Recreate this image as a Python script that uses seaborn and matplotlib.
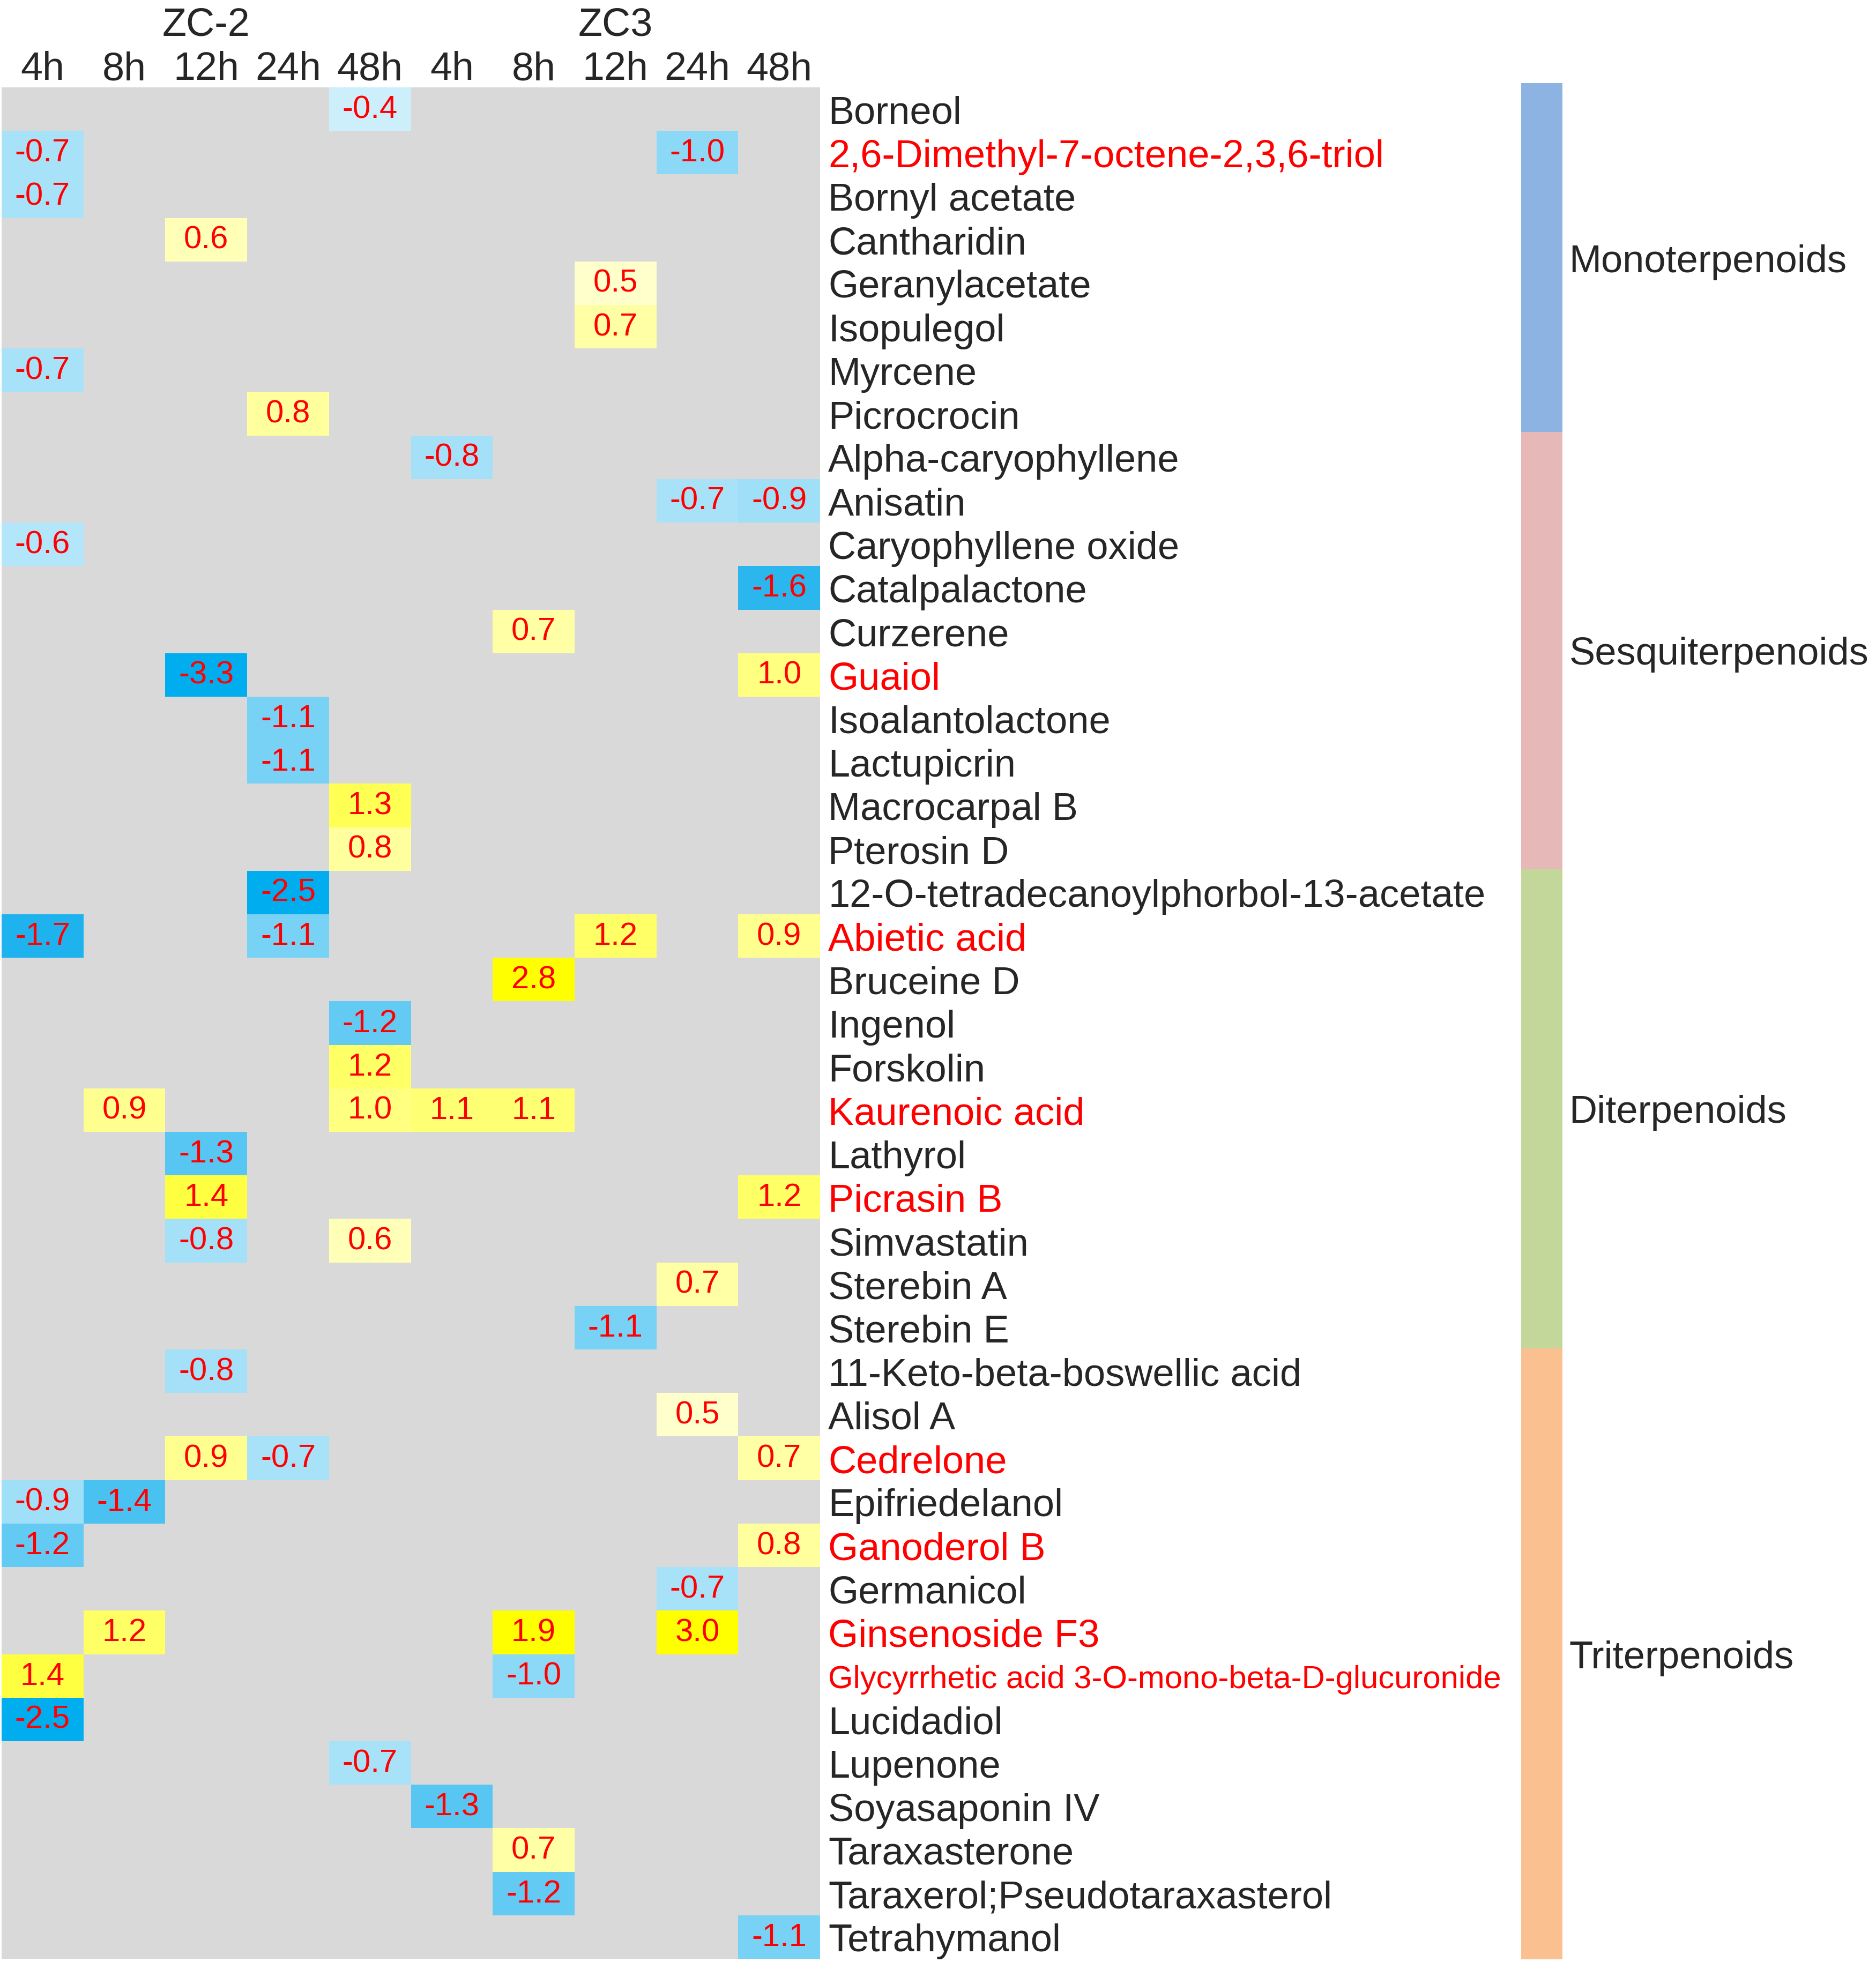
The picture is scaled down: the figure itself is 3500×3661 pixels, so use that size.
import numpy as np
import pandas as pd
import matplotlib
matplotlib.use("Agg")
import matplotlib.pyplot as plt
from matplotlib.colors import LinearSegmentedColormap, ListedColormap
import seaborn as sns

# ---------------- data ----------------
time_labels = ["4h", "8h", "12h", "24h", "48h", "4h", "8h", "12h", "24h", "48h"]
col_ids = ["ZC-2 4h", "ZC-2 8h", "ZC-2 12h", "ZC-2 24h", "ZC-2 48h",
           "ZC3 4h", "ZC3 8h", "ZC3 12h", "ZC3 24h", "ZC3 48h"]
strains = ["ZC-2", "ZC3"]

compounds = [
    "Borneol", "2,6-Dimethyl-7-octene-2,3,6-triol", "Bornyl acetate", "Cantharidin",
    "Geranylacetate", "Isopulegol", "Myrcene", "Picrocrocin",
    "Alpha-caryophyllene", "Anisatin", "Caryophyllene oxide", "Catalpalactone",
    "Curzerene", "Guaiol", "Isoalantolactone", "Lactupicrin", "Macrocarpal B", "Pterosin D",
    "12-O-tetradecanoylphorbol-13-acetate", "Abietic acid", "Bruceine D", "Ingenol",
    "Forskolin", "Kaurenoic acid", "Lathyrol", "Picrasin B", "Simvastatin",
    "Sterebin A", "Sterebin E",
    "11-Keto-beta-boswellic acid", "Alisol A", "Cedrelone", "Epifriedelanol",
    "Ganoderol B", "Germanicol", "Ginsenoside F3",
    "Glycyrrhetic acid 3-O-mono-beta-D-glucuronide", "Lucidadiol", "Lupenone",
    "Soyasaponin IV", "Taraxasterone", "Taraxerol;Pseudotaraxasterol", "Tetrahymanol",
]

red_labels = ["2,6-Dimethyl-7-octene-2,3,6-triol", "Guaiol", "Abietic acid",
              "Kaurenoic acid", "Picrasin B", "Cedrelone", "Ganoderol B",
              "Ginsenoside F3", "Glycyrrhetic acid 3-O-mono-beta-D-glucuronide"]

groups = ["Monoterpenoids", "Sesquiterpenoids", "Diterpenoids", "Triterpenoids"]
group_sizes = [8, 10, 11, 14]
group_colors = ["#8DB3E2", "#E6B8B7", "#C4D79B", "#FAC090"]

n = np.nan
values = [
    [n, n, n, n, -0.4, n, n, n, n, n],      # Borneol
    [-0.7, n, n, n, n, n, n, n, -1.0, n],   # 2,6-Dimethyl
    [-0.7, n, n, n, n, n, n, n, n, n],      # Bornyl acetate
    [n, n, 0.6, n, n, n, n, n, n, n],       # Cantharidin
    [n, n, n, n, n, n, n, 0.5, n, n],       # Geranylacetate
    [n, n, n, n, n, n, n, 0.7, n, n],       # Isopulegol
    [-0.7, n, n, n, n, n, n, n, n, n],      # Myrcene
    [n, n, n, 0.8, n, n, n, n, n, n],       # Picrocrocin
    [n, n, n, n, n, -0.8, n, n, n, n],      # Alpha-caryophyllene
    [n, n, n, n, n, n, n, n, -0.7, -0.9],   # Anisatin
    [-0.6, n, n, n, n, n, n, n, n, n],      # Caryophyllene oxide
    [n, n, n, n, n, n, n, n, n, -1.6],      # Catalpalactone
    [n, n, n, n, n, n, 0.7, n, n, n],       # Curzerene
    [n, n, -3.3, n, n, n, n, n, n, 1.0],    # Guaiol
    [n, n, n, -1.1, n, n, n, n, n, n],      # Isoalantolactone
    [n, n, n, -1.1, n, n, n, n, n, n],      # Lactupicrin
    [n, n, n, n, 1.3, n, n, n, n, n],       # Macrocarpal B
    [n, n, n, n, 0.8, n, n, n, n, n],       # Pterosin D
    [n, n, n, -2.5, n, n, n, n, n, n],      # 12-O-...
    [-1.7, n, n, -1.1, n, n, n, 1.2, n, 0.9],  # Abietic acid
    [n, n, n, n, n, n, 2.8, n, n, n],       # Bruceine D
    [n, n, n, n, -1.2, n, n, n, n, n],      # Ingenol
    [n, n, n, n, 1.2, n, n, n, n, n],       # Forskolin
    [n, 0.9, n, n, 1.0, 1.1, 1.1, n, n, n], # Kaurenoic acid
    [n, n, -1.3, n, n, n, n, n, n, n],      # Lathyrol
    [n, n, 1.4, n, n, n, n, n, n, 1.2],     # Picrasin B
    [n, n, -0.8, n, 0.6, n, n, n, n, n],    # Simvastatin
    [n, n, n, n, n, n, n, n, 0.7, n],       # Sterebin A
    [n, n, n, n, n, n, n, -1.1, n, n],      # Sterebin E
    [n, n, -0.8, n, n, n, n, n, n, n],      # 11-Keto
    [n, n, n, n, n, n, n, n, 0.5, n],       # Alisol A
    [n, n, 0.9, -0.7, n, n, n, n, n, 0.7],  # Cedrelone
    [-0.9, -1.4, n, n, n, n, n, n, n, n],   # Epifriedelanol
    [-1.2, n, n, n, n, n, n, n, n, 0.8],    # Ganoderol B
    [n, n, n, n, n, n, n, n, -0.7, n],      # Germanicol
    [n, 1.2, n, n, n, n, 1.9, n, 3.0, n],   # Ginsenoside F3
    [1.4, n, n, n, n, n, -1.0, n, n, n],    # Glycyrrhetic
    [-2.5, n, n, n, n, n, n, n, n, n],      # Lucidadiol
    [n, n, n, n, -0.7, n, n, n, n, n],      # Lupenone
    [n, n, n, n, n, -1.3, n, n, n, n],      # Soyasaponin IV
    [n, n, n, n, n, n, 0.7, n, n, n],       # Taraxasterone
    [n, n, n, n, n, n, -1.2, n, n, n],      # Taraxerol
    [n, n, n, n, n, n, n, n, n, -1.1],      # Tetrahymanol
]

# colour anchors (value, colour)
anchor_vals = [-3.3, -2.5, -1.7, -1.6, -1.3, -1.2, -1.1, -0.9, -0.7, -0.4,
               0.5, 0.7, 0.8, 1.0, 1.2, 1.4, 1.9, 3.0]
anchor_cols = ["#00AEEF", "#00AEEF", "#1DB3EE", "#2AB7EE", "#58C6F2", "#62CAF3",
               "#78D2F6", "#A0DFF8", "#A8E2F9", "#CDEFFB",
               "#FFFFCC", "#FFFFA6", "#FFFF9E", "#FFFF80", "#FFFF66", "#FFFF40",
               "#FFFF00", "#FFFF00"]

# ---------------- plot ----------------
sns.set_style("white")
plt.rcParams["font.family"] = ["Liberation Sans", "DejaVu Sans"]

df = pd.DataFrame(values, index=compounds, columns=col_ids)

vmin, vmax = -3.3, 3.0
nodes = [(v - vmin) / (vmax - vmin) for v in anchor_vals]
cmap = LinearSegmentedColormap.from_list("bwy", list(zip(nodes, anchor_cols)))

W, H = 3500, 3662
fig = plt.figure(figsize=(W / 100, H / 100), dpi=100)
top_px, bot_px = 164, 3656
ax = fig.add_axes([3 / W, 1 - bot_px / H, (1530 - 3) / W, (bot_px - top_px) / H])
ax.set_facecolor("#D9D9D9")

sns.heatmap(df, ax=ax, mask=df.isna(), cmap=cmap, vmin=vmin, vmax=vmax,
            annot=True, fmt=".1f", annot_kws={"color": "#FF0000", "fontsize": 43},
            cbar=False, linewidths=0)

ax.xaxis.tick_top()
ax.set_xticks(np.arange(len(time_labels)) + 0.5)
ax.set_xticklabels(time_labels, fontsize=53, rotation=0)
ax.tick_params(axis="x", length=0, pad=0)

ax.yaxis.tick_right()
ax.set_yticks(np.arange(len(compounds)) + 0.5)
ax.set_yticklabels(compounds, fontsize=52, rotation=0)
ax.tick_params(axis="y", length=0, pad=11)
for lab in ax.get_yticklabels():
    txt = lab.get_text()
    if txt in red_labels:
        lab.set_color("#FF0000")
    if txt.startswith("Glycyrrhetic"):
        lab.set_fontsize(43)
ax.set_xlabel("")
ax.set_ylabel("")
for s in ax.spines.values():
    s.set_visible(False)

# strain headers
for i, s in enumerate(strains):
    ax.text(2.5 + 5 * i, -1.2, s, ha="center", va="baseline", fontsize=53,
            clip_on=False)

# group bar
codes = []
for gi, size in enumerate(group_sizes):
    codes += [gi] * size
gdf = pd.DataFrame({"group": codes}, index=compounds)
gtop, gbot = 156, 3657
ax2 = fig.add_axes([2838 / W, 1 - gbot / H, (2915 - 2838) / W, (gbot - gtop) / H])
sns.heatmap(gdf, ax=ax2, cmap=ListedColormap(group_colors), vmin=-0.5, vmax=3.5,
            cbar=False, linewidths=0)
centers = np.cumsum([0] + group_sizes[:-1]) + np.array(group_sizes) / 2
ax2.yaxis.tick_right()
ax2.set_yticks(centers)
ax2.set_yticklabels(groups, fontsize=52, rotation=0)
ax2.set_xticks([])
ax2.tick_params(axis="y", length=0, pad=9)
ax2.set_xlabel("")
ax2.set_ylabel("")
for s in ax2.spines.values():
    s.set_visible(False)

fig.savefig("out.png", dpi=100, facecolor="white")
